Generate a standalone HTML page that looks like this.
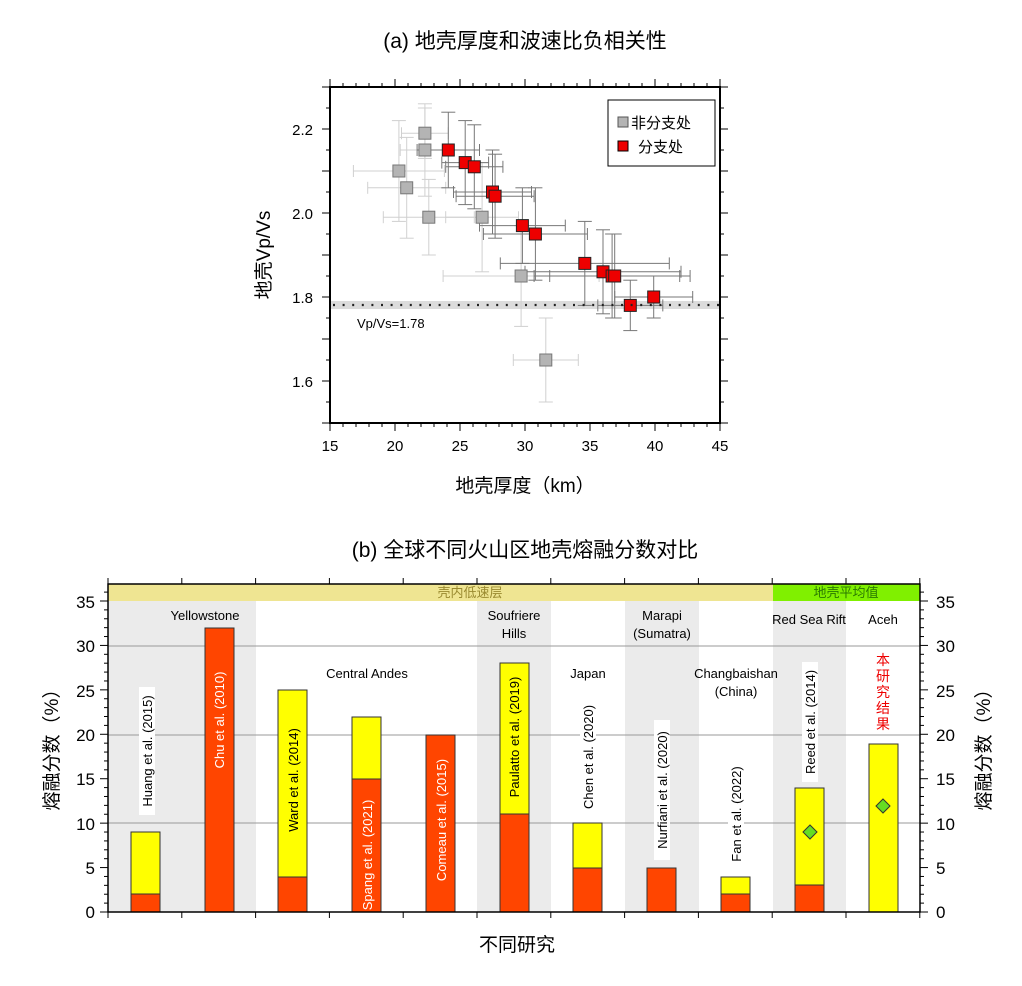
<!DOCTYPE html>
<html><head><meta charset="utf-8"><style>
body{margin:0;background:#fff;}
svg{display:block;font-family:"Liberation Sans","Noto Sans CJK SC",sans-serif;}
</style></head><body>
<svg id="s" width="1022" height="986" viewBox="0 0 1022 986" xmlns="http://www.w3.org/2000/svg">
<text x="525" y="48" font-size="21" text-anchor="middle">(a) 地壳厚度和波速比负相关性</text>
<rect x="330" y="301" width="390" height="8" fill="#dcdcdc"/>
<g id="eb"></g>
<g id="pts"></g>
<line x1="333" y1="305" x2="720" y2="305" stroke="#222" stroke-width="2.2" stroke-dasharray="2,7.6"/>
<text x="357" y="328" font-size="13">Vp/Vs=1.78</text>
<rect x="330" y="87" width="390" height="336" fill="none" stroke="#000" stroke-width="2"/>
<g id="tt"></g>
<g font-size="15" text-anchor="middle">
<text x="330" y="451">15</text><text x="395" y="451">20</text><text x="460" y="451">25</text><text x="525" y="451">30</text><text x="590" y="451">35</text><text x="655" y="451">40</text><text x="720" y="451">45</text>
</g>
<g font-size="15" text-anchor="end">
<text x="313" y="135">2.2</text><text x="313" y="219">2.0</text><text x="313" y="303">1.8</text><text x="313" y="387">1.6</text>
</g>
<text x="525" y="492" font-size="19" text-anchor="middle">地壳厚度（km）</text>
<text transform="translate(270,255) rotate(-90)" font-size="19" text-anchor="middle">地壳Vp/Vs</text>
<rect x="608" y="100" width="107" height="66" fill="#fff" stroke="#000" stroke-width="1"/>
<rect x="618" y="117" width="10" height="10" fill="#b4b4b4" stroke="#555"/>
<text x="631" y="128" font-size="15">非分支处</text>
<rect x="618" y="141" width="10" height="10" fill="#ee0000" stroke="#000"/>
<text x="638" y="152" font-size="15">分支处</text>

<text x="525" y="557" font-size="21" text-anchor="middle">(b) 全球不同火山区地壳熔融分数对比</text>
<rect x="108" y="601" width="148" height="311" fill="#ebebeb"/>
<rect x="477" y="601" width="74" height="311" fill="#ebebeb"/>
<rect x="625" y="601" width="74" height="311" fill="#ebebeb"/>
<rect x="773" y="601" width="73" height="311" fill="#ebebeb"/>
<rect x="108" y="584" width="665" height="17" fill="#efe592"/>
<rect x="773" y="584" width="147" height="17" fill="#80f000"/>
<text x="470" y="597" font-size="13" fill="#9a8a30" text-anchor="middle">壳内低速层</text>
<text x="846" y="597" font-size="13" fill="#2a7a00" text-anchor="middle">地壳平均值</text>
<g stroke="#999" stroke-width="1">
<line x1="108" y1="646" x2="920" y2="646"/><line x1="108" y1="735" x2="920" y2="735"/><line x1="108" y1="823" x2="920" y2="823"/>
</g>
<g font-size="13" text-anchor="middle">
<text x="205" y="620">Yellowstone</text>
<text x="367" y="678">Central Andes</text>
<text x="514" y="620">Soufriere</text><text x="514" y="638">Hills</text>
<text x="588" y="678">Japan</text>
<text x="662" y="620">Marapi</text><text x="662" y="638">(Sumatra)</text>
<text x="736" y="678">Changbaishan</text><text x="736" y="696">(China)</text>
<text x="809" y="624">Red Sea Rift</text>
<text x="883" y="624">Aceh</text>
</g>
<g stroke="#333" stroke-width="1">
<rect x="131" y="832" width="29" height="62" fill="#ffff00"/><rect x="131" y="894" width="29" height="18" fill="#ff4500"/>
<rect x="205" y="628" width="29" height="284" fill="#ff4500"/>
<rect x="278" y="690" width="29" height="187" fill="#ffff00"/><rect x="278" y="877" width="29" height="35" fill="#ff4500"/>
<rect x="352" y="717" width="29" height="62" fill="#ffff00"/><rect x="352" y="779" width="29" height="133" fill="#ff4500"/>
<rect x="426" y="735" width="29" height="177" fill="#ff4500"/>
<rect x="500" y="663" width="29" height="151" fill="#ffff00"/><rect x="500" y="814" width="29" height="98" fill="#ff4500"/>
<rect x="573" y="823" width="29" height="45" fill="#ffff00"/><rect x="573" y="868" width="29" height="44" fill="#ff4500"/>
<rect x="647" y="868" width="29" height="44" fill="#ff4500"/>
<rect x="721" y="877" width="29" height="18" fill="#ffff00"/><rect x="721" y="894" width="29" height="18" fill="#ff4500"/>
<rect x="795" y="788" width="29" height="97" fill="#ffff00"/><rect x="795" y="885" width="29" height="27" fill="#ff4500"/>
<rect x="869" y="744" width="29" height="168" fill="#ffff00"/>
</g>
<polygon points="810,825 817,832 810,839 803,832" fill="#66dd22" stroke="#333"/>
<polygon points="883,799 890,806 883,813 876,806" fill="#66dd22" stroke="#333"/>
<g font-size="13" text-anchor="middle">
<rect x="139" y="687" width="16" height="128" fill="#fff"/>
<text transform="translate(152,751) rotate(-90)">Huang et al. (2015)</text>
<text transform="translate(224,720) rotate(-90)" fill="#fff">Chu et al. (2010)</text>
<text transform="translate(298,780) rotate(-90)">Ward et al. (2014)</text>
<text transform="translate(372,855) rotate(-90)" fill="#fff">Spang et al. (2021)</text>
<text transform="translate(446,820) rotate(-90)" fill="#fff">Comeau et al. (2015)</text>
<text transform="translate(519,737) rotate(-90)">Paulatto et al. (2019)</text>
<rect x="580" y="697" width="16" height="119" fill="#fff"/>
<text transform="translate(593,757) rotate(-90)">Chen et al. (2020)</text>
<rect x="654" y="720" width="16" height="140" fill="#fff"/>
<text transform="translate(667,790) rotate(-90)">Nurfiani et al. (2020)</text>
<rect x="728" y="760" width="16" height="108" fill="#fff"/>
<text transform="translate(741,814) rotate(-90)">Fan et al. (2022)</text>
<rect x="802" y="662" width="16" height="120" fill="#fff"/>
<text transform="translate(815,722) rotate(-90)">Reed et al. (2014)</text>
</g>
<g font-size="14" fill="#ee0000" text-anchor="middle">
<text x="883" y="665">本</text><text x="883" y="681">研</text><text x="883" y="697">究</text><text x="883" y="713">结</text><text x="883" y="729">果</text>
</g>
<rect x="108" y="584" width="812" height="328" fill="none" stroke="#000" stroke-width="1.5"/>
<g id="bt"></g>
<g font-size="17" text-anchor="end">
<text x="95" y="918">0</text><text x="95" y="874">5</text><text x="95" y="830">10</text><text x="95" y="785">15</text><text x="95" y="741">20</text><text x="95" y="697">25</text><text x="95" y="652">30</text><text x="95" y="608">35</text>
</g>
<g font-size="17" text-anchor="start">
<text x="936" y="918">0</text><text x="936" y="874">5</text><text x="936" y="830">10</text><text x="936" y="785">15</text><text x="936" y="741">20</text><text x="936" y="697">25</text><text x="936" y="652">30</text><text x="936" y="608">35</text>
</g>
<text transform="translate(58,745) rotate(-90)" font-size="19" text-anchor="middle">熔融分数（%）</text>
<text transform="translate(990,745) rotate(-90)" font-size="19" text-anchor="middle">熔融分数（%）</text>
<text x="517" y="951" font-size="19" text-anchor="middle">不同研究</text>
</svg>
<script>
var NS="http://www.w3.org/2000/svg";
function el(p,t,a){var e=document.createElementNS(NS,t);for(var k in a)e.setAttribute(k,a[k]);p.appendChild(e);return e;}
var X=function(k){return 330+(k-15)*13},Y=function(v){return 129+(2.2-v)*420};
var eb=document.getElementById("eb"),pts=document.getElementById("pts");
var gray=[[22.3,2.19,1.8,.06],[22.3,2.15,1.9,.11],[20.3,2.10,3.5,.12],[20.9,2.06,3,.12],[22.6,1.99,3.5,.09],[26.7,1.99,2.8,.13],[29.7,1.85,6,.12],[31.6,1.65,2.5,.1]];
var red=[[24.1,2.15,2.4,.09],[25.4,2.12,1.8,.1],[26.1,2.11,2.2,.1],[27.5,2.05,3,.1],[27.7,2.04,3,.1],[29.8,1.97,3.3,.09],[30.8,1.95,4,.11],[34.6,1.88,6.5,.1],[36.0,1.86,6,.1],[36.7,1.85,6,.1],[36.9,1.85,5,.1],[38.1,1.78,2.5,.06],[39.9,1.80,3,.05]];
function bars(d,c){d.forEach(function(p){var x=X(p[0]),y=Y(p[1]),x1=X(p[0]-p[2]),x2=X(p[0]+p[2]),y1=Y(p[1]+p[3]),y2=Y(p[1]-p[3]);
var a={stroke:c,"stroke-width":1};el(eb,"line",Object.assign({x1:x1,y1:y,x2:x2,y2:y},a));el(eb,"line",Object.assign({x1:x,y1:y1,x2:x,y2:y2},a));
el(eb,"line",Object.assign({x1:x1,y1:y-6,x2:x1,y2:y+6},a));el(eb,"line",Object.assign({x1:x2,y1:y-6,x2:x2,y2:y+6},a));
el(eb,"line",Object.assign({x1:x-7,y1:y1,x2:x+7,y2:y1},a));el(eb,"line",Object.assign({x1:x-7,y1:y2,x2:x+7,y2:y2},a));});}
bars(gray,"#d0d0d0");bars(red,"#777");
gray.forEach(function(p){el(pts,"rect",{x:X(p[0])-6,y:Y(p[1])-6,width:12,height:12,fill:"#b4b4b4",stroke:"#777"})});
red.forEach(function(p){el(pts,"rect",{x:X(p[0])-6,y:Y(p[1])-6,width:12,height:12,fill:"#ee0000",stroke:"#222"})});
var tt=document.getElementById("tt");
for(var k=15;k<=45;k++){var x=X(k),L=(k%5==0)?8:4;el(tt,"line",{x1:x,y1:423,x2:x,y2:423+L,stroke:"#000"});el(tt,"line",{x1:x,y1:87,x2:x,y2:87-L,stroke:"#000"});}
for(var v=150;v<=230;v+=5){var y=Y(v/100),L=(v%10==0)?8:4;el(tt,"line",{x1:330,y1:y,x2:330-L,y2:y,stroke:"#000"});el(tt,"line",{x1:720,y1:y,x2:720+L,y2:y,stroke:"#000"});}
var bt=document.getElementById("bt");
for(var i=0;i<=36;i++){var y=912-i*8.886;if(y<584)break;var L=(i%5==0)?8:4;el(bt,"line",{x1:108,y1:y,x2:108-L,y2:y,stroke:"#000"});el(bt,"line",{x1:920,y1:y,x2:920+L,y2:y,stroke:"#000"});}
for(var j=0;j<=11;j++){var x=108+j*73.8;el(bt,"line",{x1:x,y1:912,x2:x,y2:918,stroke:"#000"});el(bt,"line",{x1:x,y1:584,x2:x,y2:578,stroke:"#000"});}
</script>
</body></html>
